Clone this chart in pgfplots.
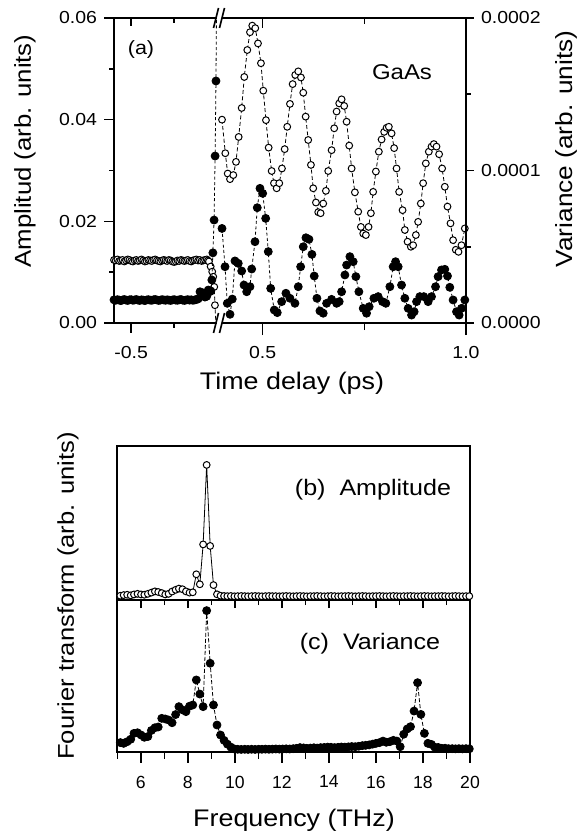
\documentclass[border=0pt]{standalone}
\usepackage{pgfplots}
\pgfplotsset{compat=1.18}
\usepackage{fontspec}
\setmainfont[FakeStretch=1.12]{Liberation Sans}
\newfontfamily\plainfont{Liberation Sans}
\begin{document}
\begin{tikzpicture}
\useasboundingbox (0,0) rectangle (289.5pt,-416.5pt);
\pgfplotsset{
 every axis/.append style={scale only axis, anchor=north west,
   tick label style={font=\fontsize{8.7}{10}\selectfont},
   /pgf/number format/assume math mode=true,
   axis line style={line width=0.9pt},
   every tick/.style={black, line width=0.8pt},
   major tick length=5pt, minor tick length=3pt},
 opnA/.style={black, line width=0.4pt, dash pattern=on 2pt off 1.2pt, mark=*, mark size=1.7pt,
   mark options={solid, fill=white, draw=black, line width=0.5pt}},
 filA/.style={black, line width=0.4pt, dash pattern=on 1.5pt off 1.2pt, mark=*, mark size=2pt,
   mark options={solid, fill=black}},
 opnB/.style={black, line width=0.4pt, mark=*, mark size=1.7pt,
   mark options={solid, fill=white, draw=black, line width=0.5pt}},
 filC/.style={black, line width=0.4pt, dash pattern=on 2pt off 1pt, mark=*, mark size=2pt,
   mark options={solid, fill=black}},
}
% ---------------- (a) left section: amplitude ----------------
\begin{axis}[at={(57pt,-9pt)}, width=51.5pt, height=152.5pt,
  xmin=-0.6, xmax=0, ymin=0, ymax=0.06,
  axis x line*=bottom, axis y line*=left, tick align=outside,
  xtick={-0.5}, xticklabels={-0.5}, minor xtick={-0.25},
  ytick={0,0.02,0.04,0.06}, yticklabels={0.00,0.02,0.04,0.06},
  minor ytick={0.01,0.03,0.05}, scaled y ticks=false,
  major tick length=5pt, minor tick length=2.5pt,
  xticklabel style={yshift=-3pt}]
\addplot[opnA] coordinates {
(-0.60,0.0124)(-0.59,0.0123)(-0.58,0.0125)(-0.57,0.0122)(-0.56,0.0123)(-0.55,0.0124)
(-0.54,0.0121)(-0.53,0.0123)(-0.52,0.0125)(-0.51,0.0124)(-0.50,0.0122)(-0.49,0.0121)
(-0.48,0.0123)(-0.47,0.0124)(-0.46,0.0122)(-0.45,0.0123)(-0.44,0.0125)(-0.43,0.0123)
(-0.42,0.0121)(-0.41,0.0122)(-0.40,0.0124)(-0.39,0.0123)(-0.38,0.0122)(-0.37,0.0124)
(-0.36,0.0125)(-0.35,0.0123)(-0.34,0.0122)(-0.33,0.0121)(-0.32,0.0123)(-0.31,0.0124)
(-0.30,0.0123)(-0.29,0.0122)(-0.28,0.0124)(-0.27,0.0123)(-0.26,0.0121)(-0.25,0.0120)
(-0.24,0.0121)(-0.23,0.0123)(-0.22,0.0122)(-0.21,0.0124)(-0.20,0.0123)(-0.19,0.0122)
(-0.18,0.0123)(-0.17,0.0124)(-0.16,0.0122)(-0.15,0.0121)(-0.14,0.0123)(-0.13,0.0124)
(-0.12,0.0125)(-0.11,0.0123)(-0.10,0.0124)(-0.09,0.0122)(-0.08,0.0123)(-0.07,0.0124)
(-0.06,0.0125)(-0.053,0.0123)(-0.047,0.0121)(-0.037,0.0111)(-0.028,0.0101)
(-0.022,0.0091)(-0.016,0.0071)(-0.012,0.0035)(0.000,-0.0040)
};
\end{axis}
\begin{axis}[at={(57pt,-9pt)}, width=51.5pt, height=152.5pt,
  xmin=-0.6, xmax=0, ymin=0, ymax=0.06,
  axis x line*=top, axis y line=none, tick align=inside,
  xtick={-0.5}, xticklabels={}, minor xtick={-0.25}, ytick=\empty,
  major tick length=4pt, minor tick length=2.5pt]
\addplot[draw=none] coordinates {(-0.3,0.03)};
\end{axis}
\begin{axis}[at={(57pt,-9pt)}, width=51.5pt, height=152.5pt,
  xmin=-0.6, xmax=0, ymin=0, ymax=0.0002, hide axis]
\addplot[filA] coordinates {
(-0.60,1.52e-5)(-0.59,1.49e-5)(-0.58,1.53e-5)(-0.57,1.50e-5)(-0.56,1.47e-5)(-0.55,1.51e-5)
(-0.54,1.54e-5)(-0.53,1.50e-5)(-0.52,1.48e-5)(-0.51,1.52e-5)(-0.50,1.53e-5)(-0.49,1.49e-5)
(-0.48,1.51e-5)(-0.47,1.54e-5)(-0.46,1.50e-5)(-0.45,1.48e-5)(-0.44,1.52e-5)(-0.43,1.50e-5)
(-0.42,1.47e-5)(-0.41,1.51e-5)(-0.40,1.53e-5)(-0.39,1.50e-5)(-0.38,1.49e-5)(-0.37,1.52e-5)
(-0.36,1.54e-5)(-0.35,1.51e-5)(-0.34,1.48e-5)(-0.33,1.50e-5)(-0.32,1.53e-5)(-0.31,1.51e-5)
(-0.30,1.49e-5)(-0.29,1.52e-5)(-0.28,1.50e-5)(-0.27,1.48e-5)(-0.26,1.51e-5)(-0.25,1.53e-5)
(-0.24,1.50e-5)(-0.23,1.49e-5)(-0.22,1.52e-5)(-0.21,1.54e-5)(-0.20,1.50e-5)(-0.19,1.48e-5)
(-0.18,1.51e-5)(-0.17,1.53e-5)(-0.16,1.50e-5)(-0.15,1.52e-5)(-0.14,1.49e-5)(-0.13,1.51e-5)
(-0.12,1.54e-5)(-0.11,1.58e-5)(-0.099,2.05e-5)(-0.090,1.90e-5)(-0.080,1.97e-5)
(-0.070,1.70e-5)(-0.060,1.75e-5)(-0.051,2.16e-5)(-0.043,2.05e-5)(-0.036,2.10e-5)
(-0.030,2.82e-5)(-0.024,4.60e-5)(-0.017,6.75e-5)(-0.011,1.095e-4)(-0.006,1.587e-4)
(0.000,2.5e-4)
};
\end{axis}
% ---------------- (a) right section ----------------
\begin{axis}[at={(111pt,-9pt)}, width=122pt, height=152.5pt,
  xmin=0.4, xmax=1.0, ymin=0, ymax=0.06,
  axis x line*=bottom, axis y line=none, tick align=outside,
  xtick={0.5,1.0}, xticklabels={0.5,1.0}, minor xtick={0.75},
  major tick length=6pt, minor tick length=3.5pt,
  xticklabel style={yshift=-2pt}]
\addplot[opnA] coordinates {
(0.400,0.0400)(0.4081,0.0334)(0.4140,0.0294)(0.4197,0.0283)(0.4278,0.0291)(0.4344,0.0317)
(0.4410,0.0366)(0.4484,0.0423)(0.4548,0.0484)(0.4622,0.0537)(0.4688,0.0572)(0.4744,0.0585)
(0.4818,0.0580)(0.4885,0.0550)(0.4958,0.0511)(0.5015,0.0457)(0.5081,0.0399)(0.5147,0.0345)
(0.5221,0.0299)(0.5278,0.0275)(0.5344,0.0265)(0.5408,0.0275)(0.5474,0.0304)(0.5541,0.0342)
(0.5604,0.0386)(0.5671,0.0431)(0.5737,0.0470)(0.5801,0.0488)(0.5875,0.0495)(0.5941,0.0483)
(0.5998,0.0453)(0.6057,0.0406)(0.6120,0.0360)(0.6187,0.0311)(0.6243,0.0265)(0.6310,0.0237)
(0.6366,0.0218)(0.6425,0.0216)(0.6489,0.0235)(0.6555,0.0260)(0.6612,0.0299)(0.6695,0.0340)
(0.6759,0.0383)(0.6818,0.0416)(0.6882,0.0432)(0.6941,0.0440)(0.7005,0.0427)(0.7064,0.0396)
(0.7128,0.0349)(0.7187,0.0304)(0.7268,0.0257)(0.7349,0.0219)(0.7415,0.0189)(0.7472,0.0176)
(0.7538,0.0173)(0.7604,0.0189)(0.7661,0.0216)(0.7717,0.0258)(0.7784,0.0298)(0.7857,0.0337)
(0.7924,0.0361)(0.7988,0.0376)(0.8047,0.0384)(0.8103,0.0386)(0.8170,0.0373)(0.8233,0.0344)
(0.8292,0.0304)(0.8356,0.0258)(0.8440,0.0222)(0.8496,0.0183)(0.8563,0.0160)(0.8644,0.0150)
(0.8700,0.0153)(0.8767,0.0173)(0.8823,0.0199)(0.8889,0.0235)(0.8946,0.0275)(0.9012,0.0314)
(0.9086,0.0337)(0.9152,0.0347)(0.9209,0.0352)(0.9275,0.0347)(0.9339,0.0332)(0.9413,0.0304)
(0.9479,0.0268)(0.9545,0.0229)(0.9619,0.0196)(0.9683,0.0163)(0.9749,0.0144)(0.9816,0.0140)
(0.9889,0.0153)(0.9971,0.0186)
};
\end{axis}
\begin{axis}[at={(111pt,-9pt)}, width=122pt, height=152.5pt,
  xmin=0.4, xmax=1.0, ymin=0, ymax=0.06,
  axis x line*=top, axis y line=none, tick align=inside,
  xtick={0.5,1.0}, xticklabels={}, minor xtick={0.75}, ytick=\empty,
  major tick length=5pt, minor tick length=3pt]
\addplot[draw=none] coordinates {(0.7,0.03)};
\end{axis}
\begin{axis}[at={(111pt,-9pt)}, width=122pt, height=152.5pt,
  xmin=0.4, xmax=1.0, ymin=0, ymax=0.0002,
  axis y line*=right, axis x line=none, tick align=outside,
  ytick={0,0.0001,0.0002}, yticklabels={0.0000,0.0001,0.0002},
  minor ytick={0.00005,0.00015}, scaled y ticks=false,
  major tick length=4pt, minor tick length=2.5pt]
\addplot[filA] coordinates {
(0.400,6.2e-5)(0.4074,3.69e-5)(0.4130,1.29e-5)(0.4197,0.57e-5)(0.4253,1.57e-5)(0.4319,4.07e-5)
(0.4400,3.91e-5)(0.4484,3.41e-5)(0.4541,2.49e-5)(0.4607,2.05e-5)(0.4688,2.38e-5)(0.4730,3.54e-5)
(0.4811,5.33e-5)(0.4867,7.56e-5)(0.4934,8.83e-5)(0.5000,8.50e-5)(0.5074,6.86e-5)(0.5138,4.68e-5)
(0.5197,2.27e-5)(0.5285,0.85e-5)(0.5359,0.68e-5)(0.5467,1.40e-5)(0.5572,1.95e-5)(0.5671,1.62e-5)
(0.5794,1.29e-5)(0.5875,2.38e-5)(0.5934,3.69e-5)(0.5998,5.00e-5)(0.6064,5.59e-5)(0.6138,5.49e-5)
(0.6211,4.50e-5)(0.6268,3.08e-5)(0.6334,1.62e-5)(0.6408,0.79e-5)(0.6489,0.64e-5)(0.6572,1.29e-5)
(0.6695,1.55e-5)(0.6818,1.29e-5)(0.6882,1.40e-5)(0.6941,2.05e-5)(0.7022,3.15e-5)(0.7064,3.80e-5)
(0.7145,4.35e-5)(0.7226,4.02e-5)(0.7292,3.04e-5)(0.7366,2.05e-5)(0.7472,0.96e-5)(0.7555,0.64e-5)
(0.7619,1.07e-5)(0.7735,1.62e-5)(0.7840,1.73e-5)(0.7948,1.40e-5)(0.8029,1.29e-5)(0.8128,2.38e-5)
(0.8209,3.69e-5)(0.8268,4.02e-5)(0.8332,3.69e-5)(0.8415,2.49e-5)(0.8496,1.62e-5)(0.8577,0.96e-5)
(0.8661,0.52e-5)(0.8725,0.74e-5)(0.8784,1.40e-5)(0.8865,1.73e-5)(0.8963,1.73e-5)(0.9069,1.40e-5)
(0.9152,1.73e-5)(0.9251,2.38e-5)(0.9314,3.04e-5)(0.9398,3.48e-5)(0.9479,3.52e-5)(0.9545,3.08e-5)
(0.9602,2.34e-5)(0.9683,1.51e-5)(0.9767,0.74e-5)(0.9831,0.52e-5)(0.9889,0.96e-5)(0.9971,1.51e-5)
};
\end{axis}
% axis breaks
\draw[line width=0.8pt] (106.75pt,-14pt) -- (109.25pt,-4pt);
\draw[line width=0.8pt] (109.75pt,-14pt) -- (112.25pt,-4pt);
\draw[line width=0.8pt] (106.75pt,-166.5pt) -- (109.25pt,-156.5pt);
\draw[line width=0.8pt] (109.75pt,-166.5pt) -- (112.25pt,-156.5pt);
% labels of (a)
\node[rotate=90, font=\fontsize{11.5}{14}\selectfont] at (12.5pt,-75.5pt) {Amplitud (arb. units)};
\node[rotate=90, font=\fontsize{11.7}{14}\selectfont] at (283pt,-74.5pt) {Variance (arb. units)};
\node[font=\fontsize{12}{14}\selectfont] at (146pt,-191.5pt) {Time delay (ps)};
\node[font=\fontsize{9.6}{11}\selectfont] at (70.5pt,-25pt) {(a)};
\node[font=\fontsize{10.7}{13}\selectfont] at (201pt,-36pt) {GaAs};
% ---------------- (b) ----------------
\begin{axis}[at={(58.65pt,-223pt)}, width=176.35pt, height=77pt,
  xmin=5, xmax=20, ymin=0, ymax=1, ytick=\empty,
  xtick={6,8,...,20}, minor xtick={5,7,...,19}, xticklabels={},
  xtick pos=left, tick align=outside, major tick length=4pt, minor tick length=2.5pt]
\addplot[opnB] coordinates {
(4.98,0.030)(5.13,0.028)(5.27,0.032)(5.42,0.034)(5.57,0.030)(5.71,0.036)(5.86,0.040)
(6.01,0.036)(6.15,0.034)(6.30,0.040)(6.45,0.048)(6.60,0.056)(6.74,0.052)(6.89,0.045)
(7.04,0.036)(7.18,0.040)(7.33,0.055)(7.48,0.066)(7.62,0.074)(7.77,0.070)(7.92,0.056)
(8.07,0.048)(8.21,0.050)(8.36,0.167)(8.51,0.102)(8.65,0.361)(8.80,0.877)(8.95,0.351)
(9.09,0.097)(9.24,0.037)(9.39,0.028)(9.54,0.026)(9.68,0.025)(9.83,0.026)(9.98,0.024)
(10.12,0.025)(10.27,0.026)(10.42,0.025)(10.56,0.024)(10.71,0.025)(10.86,0.026)(11.01,0.025)
(11.15,0.024)(11.30,0.025)(11.45,0.026)(11.59,0.025)(11.74,0.025)(11.89,0.024)(12.03,0.025)
(12.18,0.026)(12.33,0.025)(12.48,0.024)(12.62,0.025)(12.77,0.026)(12.92,0.025)(13.06,0.024)
(13.21,0.025)(13.36,0.025)(13.50,0.026)(13.65,0.025)(13.80,0.024)(13.95,0.025)(14.09,0.026)
(14.24,0.025)(14.39,0.024)(14.53,0.025)(14.68,0.025)(14.83,0.026)(14.97,0.025)(15.12,0.024)
(15.27,0.025)(15.42,0.026)(15.56,0.025)(15.71,0.024)(15.86,0.025)(16.00,0.025)(16.15,0.026)
(16.30,0.025)(16.44,0.024)(16.59,0.025)(16.74,0.026)(16.89,0.025)(17.03,0.024)(17.18,0.025)
(17.33,0.025)(17.47,0.026)(17.62,0.025)(17.77,0.024)(17.91,0.025)(18.06,0.026)(18.21,0.025)
(18.36,0.024)(18.50,0.025)(18.65,0.025)(18.80,0.026)(18.94,0.025)(19.09,0.024)(19.24,0.025)
(19.38,0.026)(19.53,0.025)(19.68,0.024)(19.83,0.025)(19.97,0.025)
};
\end{axis}
% ---------------- (c) ----------------
\begin{axis}[at={(58.65pt,-300pt)}, width=176.35pt, height=75.85pt,
  xmin=5, xmax=20, ymin=0, ymax=1, ytick=\empty,
  xtick={6,8,...,20}, minor xtick={5,7,...,19},
  xtick pos=left, tick align=outside, major tick length=5.5pt, minor tick length=3.5pt,
  xticklabel style={font=\plainfont\fontsize{8.8}{10}\selectfont, yshift=-3pt}]
\addplot[filC] coordinates {
(4.98,0.090)(5.13,0.060)(5.27,0.055)(5.42,0.066)(5.57,0.082)(5.71,0.121)(5.86,0.125)
(6.01,0.110)(6.15,0.095)(6.30,0.100)(6.45,0.140)(6.60,0.158)(6.74,0.163)(6.89,0.220)
(7.04,0.216)(7.18,0.209)(7.33,0.191)(7.48,0.245)(7.62,0.297)(7.77,0.276)(7.92,0.264)
(8.07,0.300)(8.21,0.308)(8.36,0.473)(8.51,0.380)(8.65,0.297)(8.80,0.930)(8.95,0.583)
(9.09,0.308)(9.24,0.176)(9.39,0.110)(9.54,0.075)(9.68,0.050)(9.83,0.030)(9.98,0.018)
(10.12,0.016)(10.27,0.015)(10.42,0.016)(10.56,0.015)(10.71,0.016)(10.86,0.015)(11.01,0.016)
(11.15,0.016)(11.30,0.017)(11.45,0.016)(11.59,0.017)(11.74,0.018)(11.89,0.017)(12.03,0.018)
(12.18,0.019)(12.33,0.018)(12.48,0.020)(12.62,0.022)(12.77,0.027)(12.92,0.025)(13.06,0.022)
(13.21,0.024)(13.36,0.026)(13.50,0.024)(13.65,0.027)(13.80,0.028)(13.95,0.030)(14.09,0.029)
(14.24,0.027)(14.39,0.029)(14.53,0.031)(14.68,0.030)(14.83,0.032)(14.97,0.034)(15.12,0.033)
(15.27,0.036)(15.42,0.040)(15.56,0.042)(15.71,0.045)(15.86,0.050)(16.00,0.055)(16.15,0.060)
(16.30,0.070)(16.44,0.062)(16.59,0.066)(16.74,0.075)(16.89,0.070)(17.03,0.033)(17.18,0.115)
(17.33,0.150)(17.47,0.165)(17.62,0.268)(17.77,0.455)(17.91,0.246)(18.06,0.121)(18.21,0.055)
(18.36,0.048)(18.50,0.030)(18.65,0.028)(18.80,0.022)(18.94,0.023)(19.09,0.020)(19.24,0.020)
(19.38,0.019)(19.53,0.020)(19.68,0.019)(19.83,0.020)(19.97,0.019)
};
\end{axis}
\node[font=\fontsize{11.2}{13}\selectfont] at (186.5pt,-245pt) {(b)\ \ Amplitude};
\node[font=\fontsize{11.2}{13}\selectfont] at (185pt,-322pt) {(c)\ \ Variance};
\node[rotate=90, font=\fontsize{11.4}{14}\selectfont] at (34pt,-298pt) {Fourier transform (arb. units)};
\node[font=\fontsize{12}{14}\selectfont] at (147pt,-410pt) {Frequency (THz)};
\end{tikzpicture}
\end{document}
